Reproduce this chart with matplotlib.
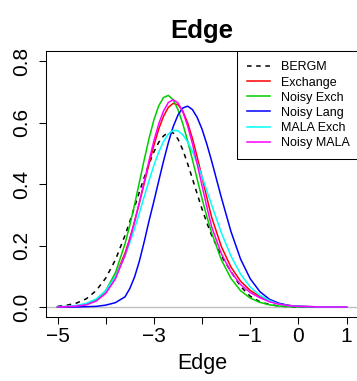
import numpy as np
import matplotlib
matplotlib.use('Agg')
import matplotlib.pyplot as plt

plt.rcParams['font.family'] = ['Liberation Sans', 'DejaVu Sans']

# density curves, evaluated on a shared grid
edge_grid = [-5.0, -4.8, -4.6, -4.4, -4.2, -4.0, -3.8, -3.6, -3.5, -3.4, -3.3, -3.2,
             -3.1, -3.0, -2.9, -2.8, -2.7, -2.6, -2.5, -2.4, -2.3, -2.2, -2.1, -2.0,
             -1.9, -1.8, -1.6, -1.4, -1.2, -1.0, -0.8, -0.6, -0.4, -0.2, 0.0, 0.5, 1.0]

bergm = [0.002, 0.006, 0.013, 0.027, 0.053, 0.094, 0.153, 0.233, 0.278, 0.326, 0.375, 0.422,
         0.466, 0.505, 0.536, 0.557, 0.569, 0.567, 0.547, 0.512, 0.467, 0.418, 0.368, 0.319,
         0.274, 0.233, 0.166, 0.116, 0.067, 0.035, 0.017, 0.008, 0.003, 0.001, 0.000, 0.000, 0.000]

exchange = [0.000, 0.001, 0.004, 0.010, 0.023, 0.051, 0.099, 0.175, 0.223, 0.279, 0.339, 0.403,
            0.466, 0.526, 0.579, 0.621, 0.650, 0.663, 0.659, 0.638, 0.600, 0.549, 0.488, 0.423,
            0.356, 0.292, 0.197, 0.130, 0.084, 0.054, 0.034, 0.019, 0.010, 0.005, 0.002, 0.000, 0.000]

noisy_exch = [0.000, 0.001, 0.003, 0.008, 0.022, 0.053, 0.111, 0.205, 0.266, 0.334, 0.407, 0.480,
              0.549, 0.609, 0.655, 0.682, 0.689, 0.675, 0.643, 0.597, 0.541, 0.480, 0.416, 0.353,
              0.294, 0.241, 0.154, 0.093, 0.053, 0.029, 0.015, 0.007, 0.003, 0.001, 0.000, 0.000, 0.000]

noisy_lang = [0.000, 0.000, 0.000, 0.001, 0.002, 0.006, 0.014, 0.033, 0.060, 0.098, 0.150, 0.213,
              0.281, 0.344, 0.410, 0.475, 0.535, 0.587, 0.625, 0.648, 0.654, 0.643, 0.617, 0.579,
              0.530, 0.475, 0.357, 0.246, 0.156, 0.092, 0.050, 0.025, 0.012, 0.005, 0.002, 0.000, 0.000]

mala_exch = [0.001, 0.002, 0.005, 0.012, 0.026, 0.053, 0.099, 0.166, 0.209, 0.256, 0.307, 0.360,
             0.412, 0.461, 0.504, 0.539, 0.563, 0.575, 0.574, 0.561, 0.538, 0.507, 0.468, 0.425,
             0.378, 0.332, 0.242, 0.166, 0.107, 0.065, 0.038, 0.021, 0.009, 0.004, 0.002, 0.000, 0.000]

noisy_mala = [0.000, 0.001, 0.003, 0.007, 0.019, 0.044, 0.091, 0.168, 0.219, 0.278, 0.342, 0.409,
              0.477, 0.541, 0.596, 0.638, 0.666, 0.675, 0.665, 0.636, 0.590, 0.532, 0.465, 0.395,
              0.326, 0.261, 0.174, 0.114, 0.073, 0.047, 0.030, 0.017, 0.009, 0.004, 0.002, 0.000, 0.000]

series = [bergm, exchange, noisy_exch, noisy_lang, mala_exch, noisy_mala]
labels = ['BERGM', 'Exchange', 'Noisy Exch', 'Noisy Lang', 'MALA Exch', 'Noisy MALA']
colors = ['black', '#ff0000', '#00cd00', '#0000ff', '#00ffff', '#ff00ff']

x_ticks = [-5, -4, -3, -2, -1, 0, 1]
x_ticklabels = ['\u22125', '', '\u22123', '', '\u22121', '0', '1']
y_ticks = [0.0, 0.2, 0.4, 0.6, 0.8]
y_ticklabels = ['0.0', '0.2', '0.4', '0.6', '0.8']

fig = plt.figure(figsize=(3.57, 3.81), dpi=100)
# plot box runs just past the right edge of the image, as in the original
ax = fig.add_axes([46 / 357, 1 - 316.8 / 381, 314 / 357, 265.3 / 381])

ax.axhline(0, color='#bebebe', lw=1, zorder=1)
for ys, lab, col in zip(series, labels, colors):
    if lab == 'BERGM':
        ax.plot(edge_grid, ys, color=col, lw=1.1, dashes=(3, 3), label=lab, zorder=2)
    else:
        ax.plot(edge_grid, ys, color=col, lw=1.1, label=lab, zorder=2)

ax.set_xlim(-5.24, 1.28)
ax.set_ylim(-0.032, 0.832)
ax.set_xticks(x_ticks)
ax.set_xticklabels(x_ticklabels)
ax.set_yticks(y_ticks)
ax.set_yticklabels(y_ticklabels, rotation=90, va='center')

ax.tick_params(direction='out', length=5, width=0.75, labelsize=15)
ax.tick_params(axis='x', pad=2.5)
ax.tick_params(axis='y', pad=5.5)
for sp in ax.spines.values():
    sp.set_linewidth(0.75)

ax.set_title('Edge', x=(357 / 2 - 46) / 314 * 0 + 0.5 * 312 / 314, fontsize=18.5,
             fontweight='bold', pad=10)
ax.set_xlabel('Edge', fontsize=15.5, labelpad=2)
ax.xaxis.set_label_coords(0.5 * 312 / 314, -0.135)

leg = ax.legend(loc='upper right', bbox_to_anchor=(1, 1), borderaxespad=0, fancybox=False,
                edgecolor='black', framealpha=1, fontsize=9, handlelength=1.85,
                handletextpad=0.9, labelspacing=0.25, borderpad=0.8)
leg.get_frame().set_linewidth(0.75)

fig.savefig('out.png', dpi=100)
